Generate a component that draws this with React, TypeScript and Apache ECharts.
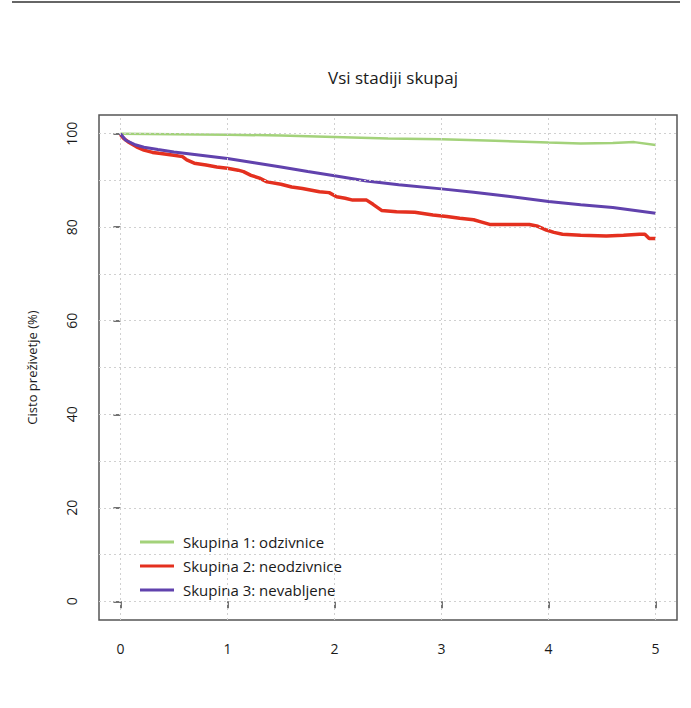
import React, { useEffect, useRef } from "react";
import * as echarts from "echarts";

const titleText = "Vsi stadiji skupaj";
const yAxisTitle = "Cisto preživetje (%)";
const xTicks = [0, 1, 2, 3, 4, 5];
const yTicks = [0, 20, 40, 60, 80, 100];
const yGrid = [0, 10, 20, 30, 40, 50, 60, 70, 80, 90, 100];

const seriesNames = [
  "Skupina 1: odzivnice",
  "Skupina 2: neodzivnice",
  "Skupina 3: nevabljene",
];
const seriesColors = ["#a3d27a", "#e4301f", "#6142ad"];
const seriesWidths = [2.5, 3.5, 3];

const greenT = [0, 0.5, 1, 1.5, 2, 2.5, 3, 3.5, 4, 4.3, 4.6, 4.8, 5];
const greenV = [100, 99.9, 99.8, 99.6, 99.3, 99.0, 98.8, 98.5, 98.1, 97.9, 98.0, 98.2, 97.6];

const purpleT = [0, 0.05, 0.13, 0.22, 0.35, 0.5, 0.75, 1, 1.25, 1.5, 1.75, 2, 2.3, 2.6, 3, 3.3, 3.6, 4, 4.3, 4.6, 5];
const purpleV = [100, 98.6, 97.7, 97.1, 96.6, 96.1, 95.4, 94.7, 93.8, 92.9, 91.9, 91.0, 89.9, 89.1, 88.2, 87.5, 86.7, 85.5, 84.8, 84.2, 83.0];

const redT = [0, 0.03, 0.07, 0.15, 0.22, 0.3, 0.36, 0.5, 0.58, 0.62, 0.69, 0.8, 0.9, 1.0, 1.1, 1.15, 1.22, 1.3, 1.37, 1.5, 1.6, 1.7, 1.86, 1.95, 2.02, 2.1, 2.17, 2.3, 2.36, 2.44, 2.58, 2.75, 2.92, 3.05, 3.17, 3.3, 3.36, 3.45, 3.6, 3.82, 3.9, 3.98, 4.05, 4.13, 4.3, 4.54, 4.7, 4.85, 4.9, 4.94, 5];
const redV = [99.8, 99.0, 98.3, 97.2, 96.5, 96.0, 95.8, 95.4, 95.1, 94.4, 93.7, 93.3, 92.9, 92.6, 92.2, 91.9, 91.1, 90.5, 89.7, 89.2, 88.6, 88.3, 87.6, 87.4, 86.5, 86.2, 85.8, 85.8, 84.9, 83.6, 83.3, 83.2, 82.6, 82.3, 81.9, 81.6, 81.2, 80.6, 80.6, 80.6, 80.2, 79.4, 78.9, 78.5, 78.3, 78.1, 78.3, 78.5, 78.5, 77.6, 77.6];

const zip = (t: number[], v: number[]) => t.map((x, i) => [x, v[i]]);

const FONT = "'Open Sans', sans-serif";

export default function App() {
  const ref = useRef<HTMLDivElement>(null);
  useEffect(() => {
    if (!ref.current) return;
    const chart = echarts.init(ref.current, null, { renderer: "svg" });
    const datasets = [zip(greenT, greenV), zip(redT, redV), zip(purpleT, purpleV)];
    const gridMarks = [
      ...xTicks.map((x) => ({ xAxis: x })),
      ...yGrid.map((y) => ({ yAxis: y })),
    ];
    chart.setOption({
      animation: false,
      backgroundColor: "#ffffff",
      textStyle: { fontFamily: FONT },
      title: {
        text: titleText,
        left: 388,
        top: 64,
        textAlign: "center",
        textStyle: { fontFamily: FONT, fontSize: 17, fontWeight: "normal", color: "#1a1a1a" },
      },
      graphic: [
        {
          type: "line",
          shape: { x1: 12, y1: 2, x2: 680, y2: 2 },
          style: { stroke: "#333", lineWidth: 1.5 },
        },
      ],
      grid: {
        left: 99,
        top: 115,
        right: 14,
        bottom: 88,
        show: true,
        borderColor: "#555",
        borderWidth: 1.5,
        backgroundColor: "transparent",
      },
      legend: {
        orient: "vertical",
        left: 135,
        top: 528,
        icon: "rect",
        itemWidth: 34,
        itemHeight: 3,
        itemGap: 6,
        data: seriesNames,
        textStyle: {
          fontFamily: FONT,
          fontSize: 15,
          color: "#1a1a1a",
          lineHeight: 18,
          padding: [0, 0, 0, 4],
        },
      },
      xAxis: {
        type: "value",
        min: -0.2,
        max: 5.2,
        axisLine: { show: false },
        splitLine: { show: false },
        axisTick: {
          show: true,
          customValues: xTicks,
          length: 7,
          lineStyle: { color: "#444", width: 1.5 },
        },
        axisLabel: {
          customValues: xTicks,
          margin: 21,
          fontFamily: FONT,
          fontSize: 14,
          color: "#1a1a1a",
        },
      },
      yAxis: {
        type: "value",
        min: -4,
        max: 104,
        name: yAxisTitle,
        nameLocation: "middle",
        nameRotate: 90,
        nameGap: 61,
        nameTextStyle: { fontFamily: FONT, fontSize: 13, color: "#1a1a1a" },
        axisLine: { show: false },
        splitLine: { show: false },
        axisTick: {
          show: true,
          customValues: yTicks,
          length: 7,
          lineStyle: { color: "#444", width: 1.5 },
        },
        axisLabel: {
          customValues: yTicks,
          rotate: 90,
          margin: 21,
          fontFamily: FONT,
          fontSize: 14,
          color: "#1a1a1a",
        },
      },
      series: [
        {
          name: "grid",
          type: "line",
          data: [],
          silent: true,
          z: 1,
          markLine: {
            silent: true,
            symbol: "none",
            label: { show: false },
            lineStyle: { type: [2, 3], color: "#d0d0d0", width: 1 },
            data: gridMarks,
          },
        },
        ...seriesNames.map((name, i) => ({
          name,
          type: "line",
          data: datasets[i],
          showSymbol: false,
          symbol: "none",
          color: seriesColors[i],
          lineStyle: { color: seriesColors[i], width: seriesWidths[i] },
          z: 3,
        })),
      ],
    });
    return () => chart.dispose();
  }, []);
  return (
    <div
      ref={ref}
      style={{ position: "fixed", left: 0, top: 0, width: 691, height: 708 }}
    />
  );
}
